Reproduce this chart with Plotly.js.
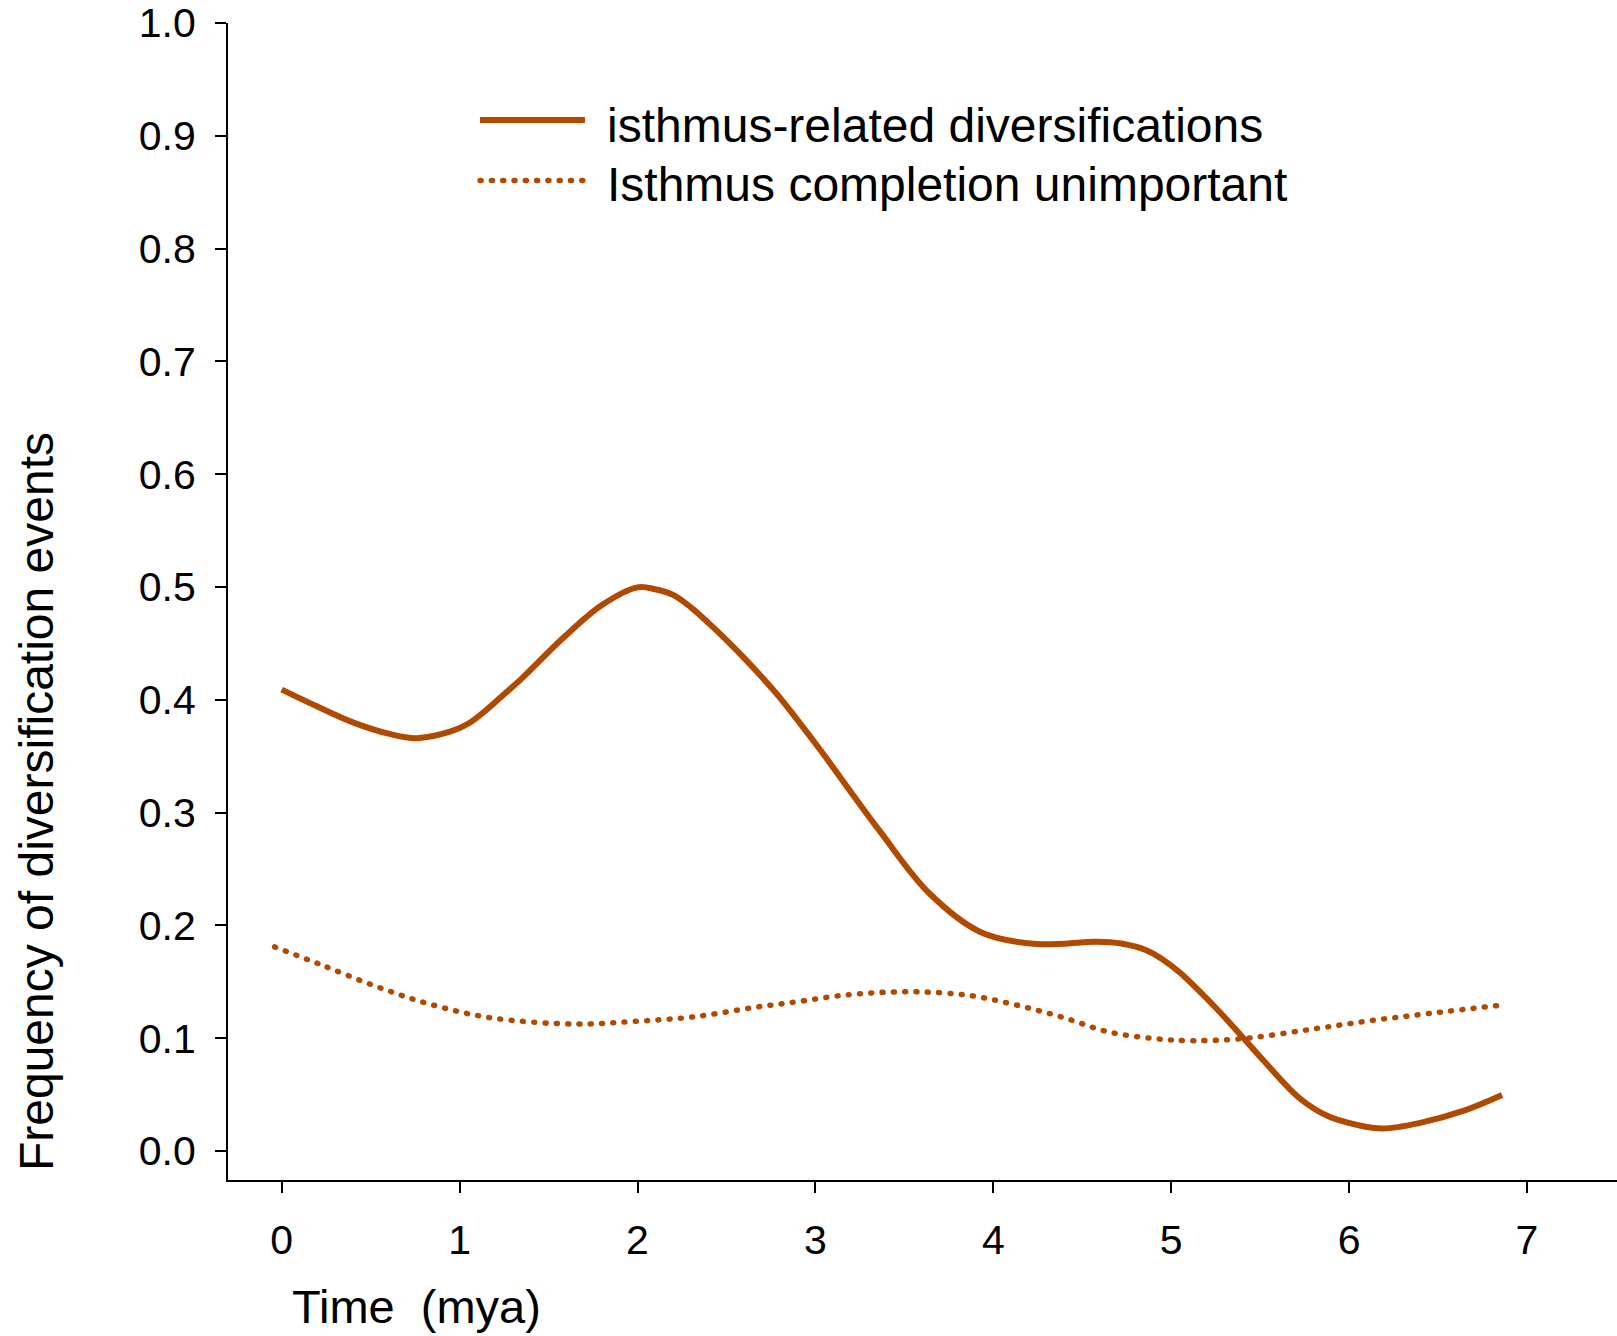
<!DOCTYPE html>
<html>
<head>
<meta charset="utf-8">
<script src="https://cdn.plot.ly/plotly-3.0.1.min.js"></script>
<style>
  html, body { margin: 0; padding: 0; background: #ffffff; }
  #chart { width: 1617px; height: 1336px; }
</style>
</head>
<body>
<div id="chart"></div>
<script>
// ---- data ----
var seriesNames = ["isthmus-related diversifications", "Isthmus completion unimportant"];

var timeIsthmus = [0, 0.2, 0.4, 0.6, 0.76, 0.95, 1.05, 1.15, 1.25, 1.35, 1.58, 1.8, 2.0, 2.1, 2.2,
                   2.3, 2.4, 2.5, 2.6, 2.7, 2.8, 2.9, 3.03, 3.36, 3.64, 3.93, 4.24, 4.58, 4.72,
                   4.86, 4.95, 5.05, 5.15, 5.25, 5.35, 5.52, 5.72, 5.88, 6.05, 6.19, 6.4, 6.65, 6.86];
var freqIsthmus = [0.409, 0.394, 0.380, 0.370, 0.366, 0.372, 0.379, 0.391, 0.405, 0.419, 0.4545,
                   0.484, 0.4997, 0.498, 0.493, 0.482, 0.468, 0.453, 0.437, 0.420, 0.402, 0.382,
                   0.355, 0.284, 0.2285, 0.194, 0.1835, 0.1856, 0.184, 0.178, 0.170, 0.158, 0.143,
                   0.127, 0.110, 0.080, 0.047, 0.031, 0.023, 0.020, 0.025, 0.036, 0.0496];

var timeUnimportant = [-0.04, 0.215, 0.53, 0.85, 1.18, 1.65, 1.99, 2.32, 2.66, 2.86, 3.19, 3.53,
                       3.86, 4.13, 4.39, 4.65, 4.91, 5.12, 5.42, 5.79, 6.12, 6.455, 6.86];
var freqUnimportant = [0.181, 0.1655, 0.146, 0.1294, 0.118, 0.1126, 0.115, 0.119, 0.1274, 0.1315,
                       0.1386, 0.1412, 0.138, 0.1294, 0.1185, 0.1055, 0.0996, 0.0978, 0.0999, 0.108,
                       0.1155, 0.122, 0.1294];

var xTickVals = [0, 1, 2, 3, 4, 5, 6, 7];
var yTickVals = [0, 0.1, 0.2, 0.3, 0.4, 0.5, 0.6, 0.7, 0.8, 0.9, 1.0];
var xTitle = "Time\u00a0\u00a0(mya)";
var yTitle = "Frequency of diversification events";

// ---- style ----
var lineColor = "#B04A00";
var fontFamily = "'Liberation Sans', Arial, Helvetica, sans-serif";

var traces = [
  {
    x: timeIsthmus, y: freqIsthmus, name: seriesNames[0], type: "scatter", mode: "lines",
    line: { color: lineColor, width: 6, shape: "spline", smoothing: 1 },
    showlegend: false, hoverinfo: "x+y"
  },
  {
    x: timeUnimportant, y: freqUnimportant, name: seriesNames[1], type: "scatter", mode: "lines",
    line: { color: lineColor, width: 5.5, shape: "spline", smoothing: 1, dash: "1px,10.3px" },
    showlegend: false, hoverinfo: "x+y"
  }
];

var layout = {
  width: 1617, height: 1336,
  margin: { l: 228, r: 0, t: 23, b: 156 },
  paper_bgcolor: "#ffffff", plot_bgcolor: "#ffffff",
  font: { family: fontFamily, color: "#000000" },
  showlegend: false,
  xaxis: {
    range: [-0.302, 7.506], tickvals: xTickVals, ticktext: xTickVals.map(String),
    showgrid: false, zeroline: false, showline: true, linecolor: "#000000", linewidth: 2,
    ticks: "outside", ticklen: 11, tickwidth: 2, tickcolor: "#000000",
    tickfont: { size: 41, family: fontFamily, color: "#000000" },
    ticklabelstandoff: 12
  },
  yaxis: {
    range: [-0.0257, 1.0], tickvals: yTickVals, ticktext: yTickVals.map(function (v) { return v.toFixed(1); }),
    showgrid: false, zeroline: false, showline: true, linecolor: "#000000", linewidth: 2,
    ticks: "outside", ticklen: 11, tickwidth: 2, tickcolor: "#000000",
    tickfont: { size: 41, family: fontFamily, color: "#000000" },
    ticklabelstandoff: 11, ticklabeloverflow: "allow"
  },
  shapes: [
    { type: "line", xref: "paper", yref: "paper", x0: 0.1814, x1: 0.2570, y0: 0.9162, y1: 0.9162,
      line: { color: lineColor, width: 6 } },
    { type: "line", xref: "paper", yref: "paper", x0: 0.1815, x1: 0.2560, y0: 0.8639, y1: 0.8639,
      line: { color: lineColor, width: 5.5, dash: "1px,10.3px" } }
  ],
  annotations: [
    { xref: "paper", yref: "paper", x: 0.2714, y: 0.9110, xanchor: "left", yanchor: "middle",
      text: seriesNames[0], showarrow: false, font: { size: 48, family: fontFamily, color: "#000000" } },
    { xref: "paper", yref: "paper", x: 0.2714, y: 0.8608, xanchor: "left", yanchor: "middle",
      text: seriesNames[1], showarrow: false, font: { size: 48, family: fontFamily, color: "#000000" } },
    { xref: "paper", yref: "paper", x: 0.0446, y: -0.1090, xanchor: "left", yanchor: "middle",
      text: xTitle, showarrow: false, font: { size: 47, family: fontFamily, color: "#000000" } },
    { xref: "paper", yref: "paper", x: -0.1382, y: 0.3267, xanchor: "center", yanchor: "middle",
      text: yTitle, textangle: -90, showarrow: false, font: { size: 48, family: fontFamily, color: "#000000" } }
  ]
};

function roundDots() {
  var paths = document.querySelectorAll("#chart .scatterlayer path.js-line, #chart .shapelayer path");
  paths.forEach(function (p) {
    var da = p.style.strokeDasharray || p.getAttribute("stroke-dasharray");
    if (da && da !== "none" && da !== "") {
      p.style.strokeLinecap = "round";
    }
  });
}

Plotly.newPlot("chart", traces, layout, { displayModeBar: false, staticPlot: true }).then(function (gd) {
  roundDots();
  gd.on("plotly_afterplot", roundDots);
});
</script>
</body>
</html>
